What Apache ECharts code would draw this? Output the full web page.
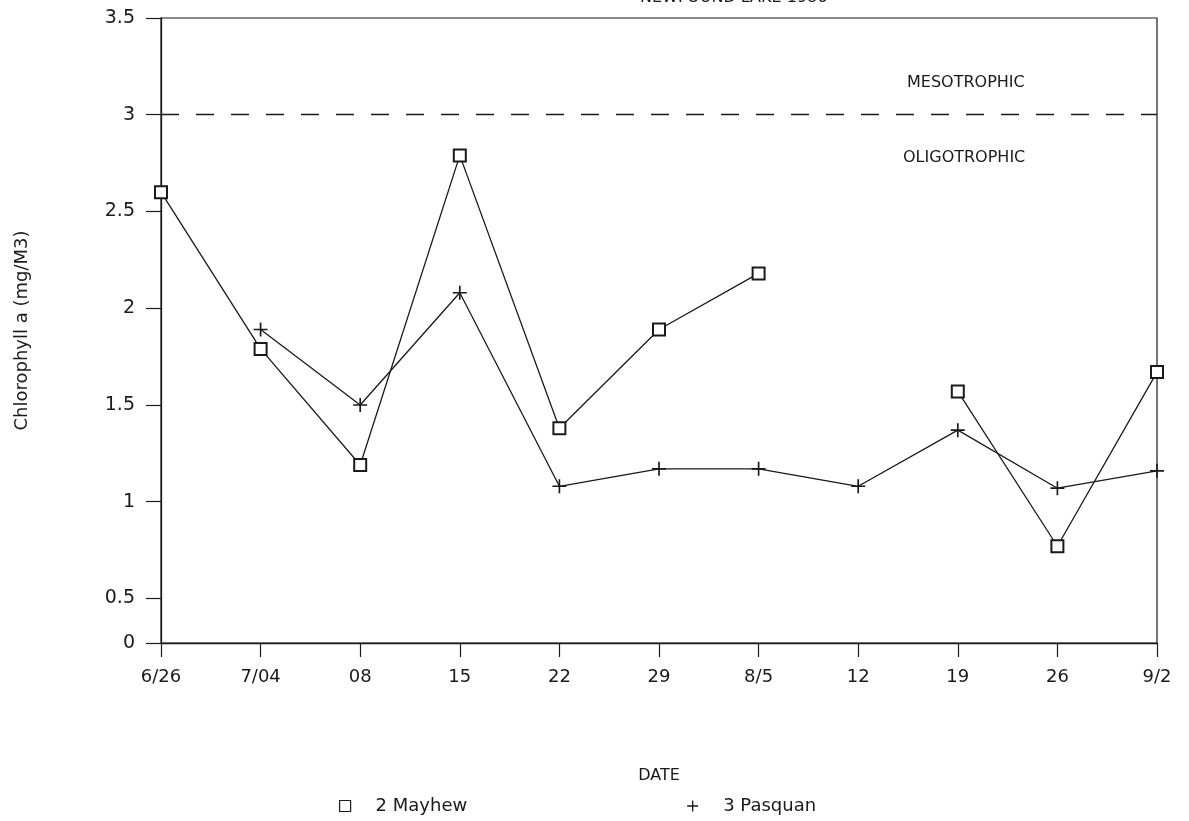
<!DOCTYPE html>
<html>
<head>
<meta charset="utf-8">
<script src="https://cdn.jsdelivr.net/npm/echarts@6/dist/echarts.min.js"></script>
<style>
html,body{margin:0;padding:0;background:#fff;}
#chart{width:1189px;height:821px;}
</style>
</head>
<body>
<div id="chart"></div>
<script>
var titleText = 'NEWFOUND LAKE 1986';
var categories = ['6/26', '7/04', '08', '15', '22', '29', '8/5', '12', '19', '26', '9/2'];
var mayhew = [2.60, 1.79, 1.19, 2.79, 1.38, 1.89, 2.18, null, 1.57, 0.77, 1.67];
var pasquan = [null, 1.89, 1.50, 2.08, 1.08, 1.17, 1.17, 1.08, 1.37, 1.07, 1.16];
var yTickValues = [0, 0.5, 1, 1.5, 2, 2.5, 3, 3.5];
var thresholdValue = 3;
// the reference's vertical scale is compressed below 0.5; the "0" tick sits at this value
var yBottom = 0.27;

var ink = '#1a1a1a';
var font = 'DejaVu Sans, sans-serif';
var tickPositions = yTickValues.map(function (v) { return v === 0 ? yBottom : v; });
var plusPath = 'path://M4.4,0H5.6V10H4.4ZM0,4.4H10V5.6H0Z';

var chart = echarts.init(document.getElementById('chart'));
chart.setOption({
  backgroundColor: '#fff',
  animation: false,
  title: {
    text: titleText,
    left: 640,
    top: -10,
    padding: 0,
    textStyle: { fontFamily: font, fontSize: 16, fontWeight: 'normal', color: ink }
  },
  grid: {
    left: 161, right: 32, top: 18, bottom: 178,
    show: true, borderColor: ink, borderWidth: 1.2, backgroundColor: 'transparent'
  },
  legend: {
    left: 334, top: 792,
    itemWidth: 11, itemHeight: 11, itemGap: 220,
    textStyle: { fontFamily: font, fontSize: 18, color: ink, padding: [0, 0, 0, 20] },
    data: [
      { name: '2 Mayhew', icon: 'rect', itemStyle: { color: '#fff', borderColor: ink, borderWidth: 1.2 } },
      { name: '3 Pasquan', icon: plusPath, itemStyle: { color: ink, borderWidth: 0 } }
    ]
  },
  xAxis: {
    type: 'category',
    data: categories,
    boundaryGap: false,
    name: 'DATE',
    nameLocation: 'middle',
    nameGap: 125,
    nameTextStyle: { fontFamily: font, fontSize: 16, color: ink },
    axisLine: { lineStyle: { color: ink, width: 1.3 } },
    axisTick: { show: true, inside: false, length: 14, alignWithLabel: true, lineStyle: { color: ink, width: 1.2 } },
    axisLabel: { fontFamily: font, fontSize: 18, color: ink, margin: 25 },
    splitLine: { show: false }
  },
  yAxis: {
    type: 'value',
    min: yBottom,
    max: 3.5,
    name: 'Chlorophyll a (mg/M3)',
    nameLocation: 'middle',
    nameRotate: 90,
    nameGap: 130,
    nameTextStyle: { fontFamily: font, fontSize: 18, color: ink },
    axisLine: { show: true, lineStyle: { color: ink, width: 1.3 } },
    axisTick: { show: true, length: 15, customValues: tickPositions, lineStyle: { color: ink, width: 1.2 } },
    axisLabel: {
      fontFamily: font, fontSize: 19, color: ink, margin: 26,
      customValues: tickPositions,
      formatter: function (v) {
        var i = tickPositions.indexOf(v);
        return i >= 0 ? String(yTickValues[i]) : '';
      }
    },
    splitLine: { show: false }
  },
  graphic: [
    { type: 'text', left: 907, top: 75, style: { text: 'MESOTROPHIC', font: '16px ' + font, fill: ink } },
    { type: 'text', left: 903, top: 150, style: { text: 'OLIGOTROPHIC', font: '16px ' + font, fill: ink } }
  ],
  series: [
    {
      name: '2 Mayhew',
      type: 'line',
      data: mayhew,
      connectNulls: false,
      symbol: 'emptyRect',
      symbolSize: 12,
      lineStyle: { color: ink, width: 1.3 },
      itemStyle: { color: ink, borderColor: ink, borderWidth: 1.3 },
      z: 3,
      markLine: {
        silent: true,
        symbol: ['none', 'none'],
        label: { show: false },
        lineStyle: { color: ink, width: 1.3, type: [18, 17] },
        data: [{ yAxis: thresholdValue }]
      }
    },
    {
      name: '3 Pasquan',
      type: 'line',
      data: pasquan,
      connectNulls: false,
      symbol: plusPath,
      symbolSize: 14,
      lineStyle: { color: ink, width: 1.3 },
      itemStyle: { color: ink },
      z: 3
    }
  ]
});
</script>
</body>
</html>
